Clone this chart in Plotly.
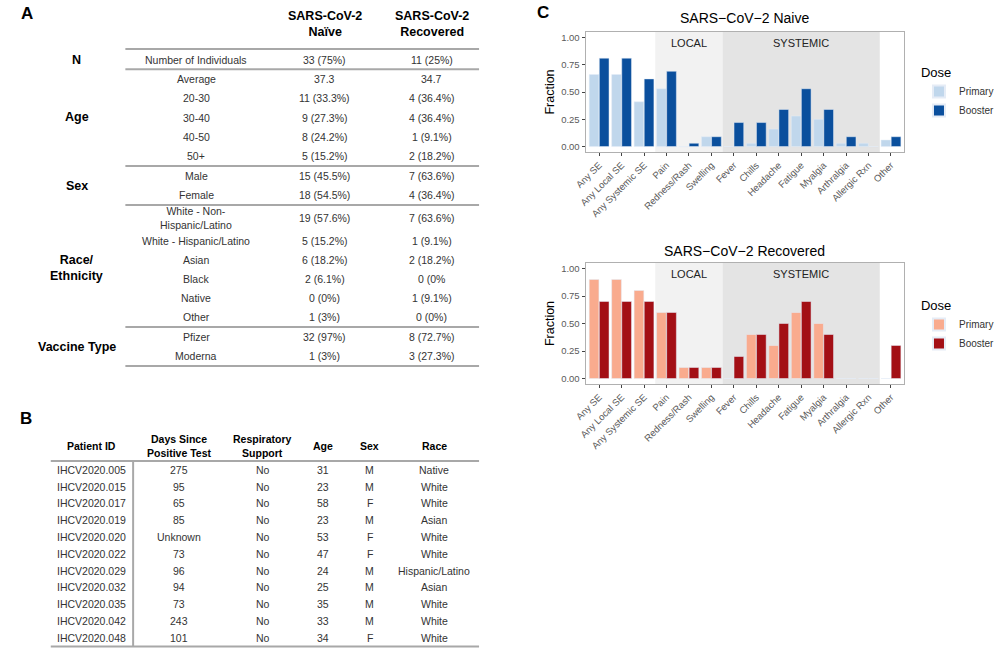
import plotly.graph_objects as go

# ---------------- DATA ----------------
categories = ["Any SE", "Any Local SE", "Any Systemic SE", "Pain", "Redness/Rash", "Swelling",
              "Fever", "Chills", "Headache", "Fatigue", "Myalgia", "Arthralgia", "Allergic Rxn", "Other"]
naive_primary = [0.66, 0.66, 0.41, 0.53, 0.0, 0.09, 0.0, 0.03, 0.16, 0.28, 0.25, 0.03, 0.03, 0.06]
naive_booster = [0.81, 0.81, 0.62, 0.69, 0.03, 0.09, 0.22, 0.22, 0.34, 0.53, 0.34, 0.09, 0.0, 0.09]
recovered_primary = [0.90, 0.90, 0.80, 0.60, 0.10, 0.10, 0.0, 0.40, 0.30, 0.60, 0.50, 0.0, 0.0, 0.0]
recovered_booster = [0.70, 0.70, 0.70, 0.60, 0.10, 0.10, 0.20, 0.40, 0.50, 0.70, 0.40, 0.0, 0.0, 0.30]
y_ticks = [0, 0.25, 0.5, 0.75, 1.0]
y_tick_labels = ["0.00", "0.25", "0.50", "0.75", "1.00"]
dose_labels = ["Primary", "Booster"]

tableA_headers = ["SARS-CoV-2<br>Naïve", "SARS-CoV-2<br>Recovered"]
tableA_groups = ["N", "Age", "Sex", "Race/<br>Ethnicity", "Vaccine Type"]
tableA_group_sizes = [1, 5, 2, 6, 2]
tableA_items = ["Number of Individuals", "Average", "20-30", "30-40", "40-50", "50+", "Male", "Female",
                "White - Non-<br>Hispanic/Latino", "White - Hispanic/Latino", "Asian", "Black", "Native",
                "Other", "Pfizer", "Moderna"]
tableA_naive = ["33 (75%)", "37.3", "11 (33.3%)", "9 (27.3%)", "8 (24.2%)", "5 (15.2%)", "15 (45.5%)",
                "18 (54.5%)", "19 (57.6%)", "5 (15.2%)", "6 (18.2%)", "2 (6.1%)", "0 (0%)", "1 (3%)",
                "32 (97%)", "1 (3%)"]
tableA_recovered = ["11 (25%)", "34.7", "4 (36.4%)", "4 (36.4%)", "1 (9.1%)", "2 (18.2%)", "7 (63.6%)",
                    "4 (36.4%)", "7 (63.6%)", "1 (9.1%)", "2 (18.2%)", "0 (0%", "1 (9.1%)", "0 (0%)",
                    "8 (72.7%)", "3 (27.3%)"]

tableB_headers = ["Patient ID", "Days Since<br>Positive Test", "Respiratory<br>Support", "Age", "Sex", "Race"]
patient_ids = ["IHCV2020.005", "IHCV2020.015", "IHCV2020.017", "IHCV2020.019", "IHCV2020.020",
               "IHCV2020.022", "IHCV2020.029", "IHCV2020.032", "IHCV2020.035", "IHCV2020.042", "IHCV2020.048"]
days_since = ["275", "95", "65", "85", "Unknown", "73", "96", "94", "73", "243", "101"]
resp_support = ["No", "No", "No", "No", "No", "No", "No", "No", "No", "No", "No"]
ages = ["31", "23", "58", "23", "53", "47", "24", "25", "35", "33", "34"]
sexes = ["M", "M", "F", "M", "F", "F", "M", "M", "M", "M", "F"]
races = ["Native", "White", "White", "Asian", "White", "White", "Hispanic/Latino", "Asian", "White",
         "White", "White"]

# ---------------- LAYOUT HELPERS ----------------
W, H = 1000, 648
FONT = "Arial, Liberation Sans, sans-serif"
annotations = []
shapes = []


def px(x):
    return x / W


def py(y):
    return 1 - y / H


def txt(x, y, s, size=11, bold=False, color="#333333", xanchor="center"):
    annotations.append(dict(x=px(x), y=py(y), xref="paper", yref="paper",
                            text=("<b>%s</b>" % s) if bold else s, showarrow=False,
                            font=dict(size=size, color=color, family=FONT),
                            xanchor=xanchor, yanchor="middle"))


def hline(x0, x1, y, color="#a8a8a8", width=2):
    shapes.append(dict(type="line", xref="paper", yref="paper", x0=px(x0), x1=px(x1),
                       y0=py(y), y1=py(y), line=dict(color=color, width=width)))


def vline(x, y0, y1, color="#a8a8a8", width=2):
    shapes.append(dict(type="line", xref="paper", yref="paper", x0=px(x), x1=px(x),
                       y0=py(y0), y1=py(y1), line=dict(color=color, width=width)))


# ---------------- PANEL A ----------------
txt(15, 14, "A", size=17, bold=True, color="black")
colA = [67, 190, 323, 433]
txt(colA[2], 24, tableA_headers[0], size=12.5, bold=True, color="black")
txt(colA[3], 24, tableA_headers[1], size=12.5, bold=True, color="black")
rowA_y = [59.5, 79, 98.5, 118, 137, 156, 176, 195, 218, 241, 260, 279, 298, 317, 337, 356]
for i, item in enumerate(tableA_items):
    txt(colA[1], rowA_y[i], item, size=10.5)
    txt(colA[2], rowA_y[i], tableA_naive[i], size=10.5)
    txt(colA[3], rowA_y[i], tableA_recovered[i], size=10.5)
start = 0
hline(117, 482, rowA_y[0] - 10.5)
for g, n in zip(tableA_groups, tableA_group_sizes):
    rows = rowA_y[start:start + n]
    txt(colA[0], (rows[0] + rows[-1]) / 2, g, size=12.5, bold=True, color="black")
    start += n
    if start < len(rowA_y):
        hline(117, 482, (rows[-1] + rowA_y[start]) / 2 - (1.5 if g == "Sex" else 0))
hline(117, 482, rowA_y[-1] + 10)

# ---------------- PANEL B ----------------
txt(14, 418, "B", size=17, bold=True, color="black")
colB = [82, 172, 259, 321, 369, 436]
for cx, h in zip(colB, tableB_headers):
    txt(cx, 446, h, size=10.5, bold=True, color="black")
hline(40, 482, 461)
rowB_y0, rowB_dy = 470, 16.75
cols = [patient_ids, days_since, resp_support, ages, sexes, races]
for r in range(len(patient_ids)):
    for cx, col in zip(colB, cols):
        txt(cx, rowB_y0 + r * rowB_dy, col[r], size=10.5)
vline(125, 461, 646)
hline(40, 482, 646.5)

# ---------------- PANEL C ----------------
txt(548, 13, "C", size=17, bold=True, color="black")
txt(756, 18, "SARS\u2212CoV\u22122 Naive", size=14, color="black")
txt(756, 251, "SARS\u2212CoV\u22122 Recovered", size=14, color="black")

fig = go.Figure()
fig.add_trace(go.Bar(x=categories, y=naive_primary, name=dose_labels[0], marker_color="#c0d7ec",
                     xaxis="x", yaxis="y", legend="legend"))
fig.add_trace(go.Bar(x=categories, y=naive_booster, name=dose_labels[1], marker_color="#0a4f9d",
                     xaxis="x", yaxis="y", legend="legend"))
fig.add_trace(go.Bar(x=categories, y=recovered_primary, name=dose_labels[0], marker_color="#f9ab8e",
                     xaxis="x2", yaxis="y2", legend="legend2"))
fig.add_trace(go.Bar(x=categories, y=recovered_booster, name=dose_labels[1], marker_color="#a30f15",
                     xaxis="x2", yaxis="y2", legend="legend2"))

# background bands and band labels
for xr, yr in (("x", "y"), ("x2", "y2")):
    shapes.append(dict(type="rect", xref=xr, yref=yr + " domain", x0=2.5, x1=5.5, y0=0, y1=1,
                       fillcolor="#f2f2f2", line=dict(width=0), layer="below"))
    shapes.append(dict(type="rect", xref=xr, yref=yr + " domain", x0=5.5, x1=12.5, y0=0, y1=1,
                       fillcolor="#e4e4e4", line=dict(width=0), layer="below"))
    annotations.append(dict(x=4, y=0.95, xref=xr, yref=yr, text="LOCAL", showarrow=False,
                            font=dict(size=11, color="#222222", family=FONT)))
    annotations.append(dict(x=9, y=0.95, xref=xr, yref=yr, text="SYSTEMIC", showarrow=False,
                            font=dict(size=11, color="#222222", family=FONT)))

xdom = [px(592), px(921)]
xcommon = dict(domain=xdom, range=[-0.6, 13.6], categoryorder="array", categoryarray=categories,
               tickangle=-45, tickfont=dict(size=9.5, color="#5a5a5a", family=FONT),
               showline=True, mirror=True, linecolor="#b0b0b0", linewidth=1.2,
               ticks="outside", ticklen=3, tickcolor="#444444", showgrid=False, zeroline=False)
ycommon = dict(range=[-0.05, 1.05], tickvals=y_ticks, ticktext=y_tick_labels,
               tickfont=dict(size=9.5, color="#5a5a5a", family=FONT),
               title=dict(text="Fraction", font=dict(size=12.5, color="black", family=FONT), standoff=3),
               showline=True, mirror=True, linecolor="#b0b0b0", linewidth=1.2,
               ticks="outside", ticklen=3, tickcolor="#444444", showgrid=False, zeroline=False)

legend_common = dict(xanchor="left", yanchor="top", bgcolor="rgba(0,0,0,0)",
                     font=dict(size=10, color="#333333", family=FONT), tracegroupgap=0,
                     itemsizing="constant")

fig.update_layout(
    width=W, height=H, margin=dict(l=0, r=0, t=0, b=0),
    paper_bgcolor="white", plot_bgcolor="white",
    barmode="group", bargap=0.1, bargroupgap=0.04,
    xaxis=dict(xcommon, anchor="y"),
    yaxis=dict(ycommon, domain=[py(152), py(32)], anchor="x"),
    xaxis2=dict(xcommon, anchor="y2"),
    yaxis2=dict(ycommon, domain=[py(384), py(263)], anchor="x2"),
    legend=dict(legend_common, x=px(936), y=py(60),
                title=dict(text="Dose", font=dict(size=13, color="black", family=FONT))),
    legend2=dict(legend_common, x=px(936), y=py(293),
                 title=dict(text="Dose", font=dict(size=13, color="black", family=FONT))),
    annotations=annotations, shapes=shapes,
    font=dict(family=FONT),
)

fig.write_html("out.html")
